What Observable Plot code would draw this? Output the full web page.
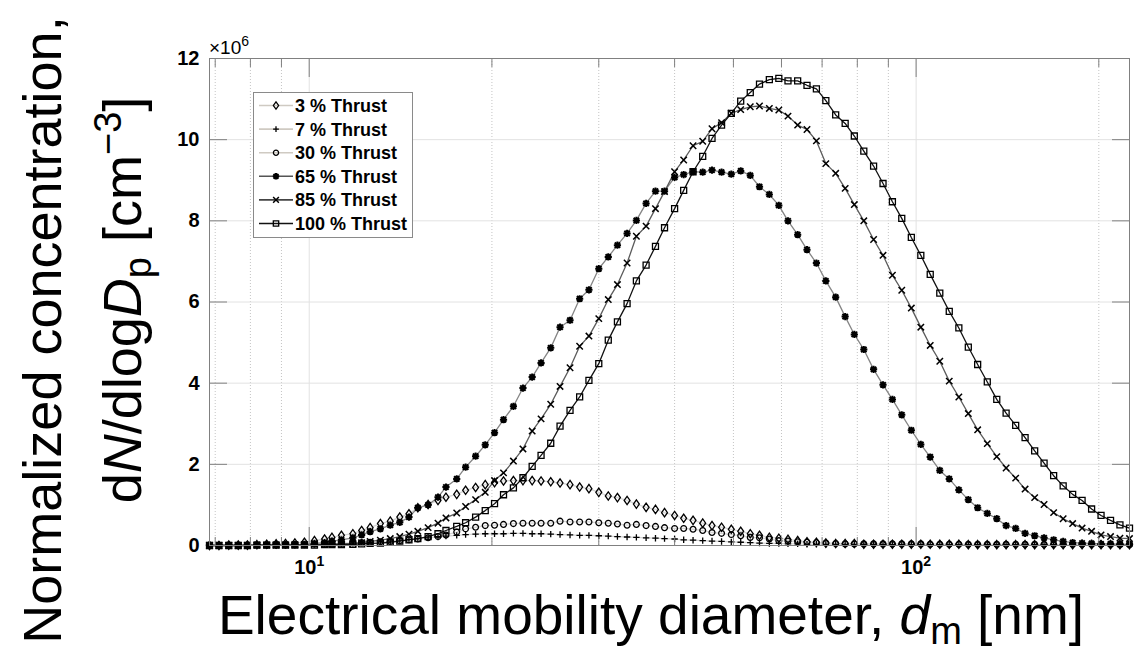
<!DOCTYPE html>
<html><head><meta charset="utf-8">
<script src="https://cdn.jsdelivr.net/npm/d3@7"></script>
<script src="https://cdn.jsdelivr.net/npm/@observablehq/plot@0.6"></script>
<style>
html,body{margin:0;padding:0;background:#fff;}
#chart{width:1136px;height:655px;overflow:hidden;}
svg{font-family:"Liberation Sans",Arial,Helvetica,sans-serif;}
</style></head>
<body><div id="chart"></div>
<script>
// SMPS channel midpoint diameters (nm)
const diameters = [6.85,7.10,7.37,7.64,7.91,8.20,8.51,8.82,9.14,9.47,9.82,
10.2,10.6,10.9,11.3,11.8,12.2,12.6,13.1,13.6,14.1,
14.6,15.1,15.7,16.3,16.8,17.5,18.1,18.8,19.5,20.2,
20.9,21.7,22.5,23.3,24.1,25.0,25.9,26.9,27.9,28.9,
30.0,31.1,32.2,33.4,34.6,35.9,37.2,38.5,40.0,41.4,
42.9,44.5,46.1,47.8,49.6,51.4,53.3,55.2,57.3,59.4,
61.5,63.8,66.1,68.5,71.0,73.7,76.4,79.1,82.0,85.1,
88.2,91.4,94.7,98.2,101.8,105.5,109.4,113.4,117.6,121.9,
126.3,131.0,135.8,140.7,145.9,151.2,156.8,162.5,168.5,174.7,
181.1,187.7,194.6,201.7,209.1,216.7,224.7];

// dN/dlogDp in units of 10^6 cm^-3
const thrust3 = [0.00,0.00,0.01,0.01,0.01,0.02,0.03,0.04,0.05,0.06,0.08,
0.12,0.16,0.20,0.25,0.29,0.37,0.44,0.54,0.60,0.70,
0.78,0.93,1.01,1.11,1.19,1.26,1.36,1.43,1.50,1.55,
1.59,1.60,1.60,1.60,1.59,1.57,1.54,1.50,1.44,1.40,
1.31,1.22,1.18,1.11,1.02,0.94,0.89,0.81,0.74,0.67,
0.62,0.55,0.49,0.45,0.40,0.35,0.29,0.25,0.20,0.18,
0.15,0.12,0.09,0.08,0.06,0.05,0.05,0.05,0.03,0.03,
0.03,0.03,0.03,0.03,0.03,0.03,0.03,0.03,0.03,0.02,
0.02,0.02,0.02,0.02,0.02,0.02,0.02,0.02,0.02,0.02,
0.02,0.02,0.02,0.02,0.02,0.02,0.02];

const thrust7 = [0.00,0.00,0.00,0.00,0.00,0.01,0.01,0.01,0.01,0.02,0.02,
0.03,0.03,0.04,0.05,0.06,0.07,0.08,0.09,0.11,0.13,
0.15,0.17,0.19,0.21,0.23,0.25,0.27,0.28,0.29,0.29,
0.29,0.30,0.30,0.29,0.29,0.28,0.27,0.26,0.25,0.25,
0.24,0.23,0.22,0.21,0.20,0.19,0.18,0.17,0.16,0.14,
0.13,0.12,0.11,0.10,0.09,0.08,0.07,0.06,0.05,0.05,
0.04,0.04,0.03,0.03,0.03,0.03,0.03,0.03,0.03,0.03,
0.02,0.02,0.02,0.02,0.02,0.02,0.02,0.02,0.02,0.02,
0.02,0.02,0.02,0.02,0.02,0.02,0.02,0.02,0.02,0.02,
0.02,0.02,0.02,0.02,0.02,0.02,0.02];

const thrust30 = [0.00,0.00,0.00,0.00,0.00,0.01,0.01,0.01,0.01,0.02,0.02,
0.03,0.03,0.04,0.05,0.06,0.07,0.08,0.09,0.10,0.12,
0.14,0.16,0.19,0.22,0.26,0.33,0.41,0.45,0.49,0.50,
0.52,0.54,0.55,0.55,0.55,0.55,0.60,0.58,0.58,0.58,
0.56,0.55,0.53,0.50,0.52,0.49,0.47,0.44,0.42,0.42,
0.40,0.37,0.32,0.30,0.27,0.24,0.20,0.19,0.16,0.12,
0.11,0.09,0.08,0.07,0.06,0.05,0.04,0.04,0.04,0.04,
0.04,0.04,0.04,0.04,0.04,0.03,0.03,0.03,0.03,0.03,
0.03,0.03,0.03,0.03,0.03,0.03,0.03,0.03,0.03,0.03,
0.03,0.03,0.03,0.03,0.03,0.03,0.03];

const thrust65 = [0.01,0.01,0.01,0.01,0.01,0.01,0.01,0.02,0.02,0.02,0.03,
0.05,0.07,0.11,0.14,0.19,0.26,0.34,0.41,0.50,0.57,
0.70,0.93,1.00,1.19,1.44,1.64,1.93,2.20,2.48,2.78,
3.10,3.43,3.88,4.15,4.50,4.87,5.38,5.55,6.08,6.30,
6.82,7.11,7.40,7.69,8.01,8.43,8.73,8.73,9.07,9.14,
9.21,9.20,9.25,9.20,9.15,9.23,9.12,8.84,8.65,8.38,
8.00,7.66,7.29,6.96,6.52,6.12,5.64,5.20,4.83,4.34,
3.96,3.60,3.22,2.84,2.49,2.18,1.85,1.64,1.37,1.13,
0.93,0.79,0.66,0.49,0.42,0.30,0.24,0.19,0.14,0.10,
0.07,0.06,0.05,0.04,0.04,0.03,0.03];

const thrust85 = [0.00,0.00,0.00,0.00,0.00,0.01,0.01,0.01,0.01,0.02,0.02,
0.03,0.03,0.04,0.04,0.05,0.07,0.10,0.13,0.17,0.22,
0.28,0.35,0.44,0.55,0.68,0.80,0.96,1.13,1.31,1.60,
1.79,2.08,2.38,2.82,3.12,3.48,3.92,4.38,4.91,5.16,
5.59,6.06,6.43,6.96,7.62,7.87,8.30,8.72,9.21,9.50,
9.85,9.96,10.27,10.42,10.65,10.74,10.81,10.83,10.77,10.73,
10.58,10.36,10.25,9.97,9.41,9.17,8.80,8.40,8.00,7.54,
7.15,6.66,6.29,5.85,5.38,4.93,4.54,4.05,3.66,3.25,
2.85,2.51,2.19,1.91,1.66,1.39,1.18,1.01,0.81,0.66,
0.54,0.43,0.35,0.26,0.22,0.18,0.17];

const thrust100 = [0.00,0.00,0.00,0.00,0.00,0.01,0.01,0.01,0.01,0.01,0.01,
0.01,0.02,0.02,0.02,0.03,0.04,0.05,0.06,0.08,0.11,
0.14,0.17,0.22,0.29,0.37,0.47,0.56,0.70,0.86,1.03,
1.25,1.42,1.67,1.95,2.22,2.52,2.94,3.33,3.66,4.07,
4.48,5.06,5.51,5.96,6.52,6.91,7.37,7.83,8.30,8.75,
9.21,9.59,10.03,10.36,10.65,10.95,11.16,11.37,11.48,11.51,
11.45,11.45,11.34,11.25,10.96,10.61,10.40,10.09,9.72,9.35,
8.92,8.47,8.06,7.59,7.15,6.68,6.22,5.77,5.36,4.89,
4.46,4.03,3.60,3.26,2.96,2.66,2.33,2.03,1.72,1.47,
1.26,1.11,0.90,0.74,0.62,0.51,0.43];

const seriesNames = ["3 % Thrust","7 % Thrust","30 % Thrust","65 % Thrust","85 % Thrust","100 % Thrust"];
const seriesValues = [thrust3, thrust7, thrust30, thrust65, thrust85, thrust100];
const yTicks = [0,2,4,6,8,10,12];
const xMajorTicks = [10,100];
const xMinorTicks = [7,8,9,20,30,40,50,60,70,80,90,200];
const xTickBase = ["10","10"];
const xTickExp = ["1","2"];

// ---- styling (separate from data) ----
const sq = (size) => Math.sqrt(size / Math.PI);
const symDiamond = {draw(c, s){const r=sq(s); c.moveTo(0,-1.35*r); c.lineTo(0.95*r,0); c.lineTo(0,1.35*r); c.lineTo(-0.95*r,0); c.closePath();}};
const symPlus = {draw(c, s){const r=sq(s); c.moveTo(-r,0); c.lineTo(r,0); c.moveTo(0,-r); c.lineTo(0,r);}};
const symCircle = {draw(c, s){const r=sq(s); c.moveTo(r,0); c.arc(0,0,r,0,2*Math.PI);}};
const symAster = {draw(c, s){const r=sq(s), q=r*0.75; c.moveTo(-r,0); c.lineTo(r,0); c.moveTo(0,-r); c.lineTo(0,r); c.moveTo(-q,-q); c.lineTo(q,q); c.moveTo(-q,q); c.lineTo(q,-q);}};
const symTimes = {draw(c, s){const r=sq(s)*0.8; c.moveTo(-r,-r); c.lineTo(r,r); c.moveTo(-r,r); c.lineTo(r,-r);}};
const symSquare = {draw(c, s){const r=sq(s); c.rect(-r,-r,2*r,2*r);}};

const styles = [
  {sym: symDiamond, r: 3.1, line: "#d4d4d4", sw: 1.3},
  {sym: symPlus, r: 3.2, line: "#d4d4d4", sw: 1.3},
  {sym: symCircle, r: 2.9, line: "#d4d4d4", sw: 1.3},
  {sym: symAster, r: 3.6, line: "#858585", sw: 2.0},
  {sym: symTimes, r: 4.0, line: "#5c5c5c", sw: 1.5},
  {sym: symSquare, r: 3.0, line: "#111111", sw: 1.3}
];

const rows = [];
seriesNames.forEach((name, si) => {
  seriesValues[si].forEach((v, k) => rows.push({series: name, si, d: diameters[k], v}));
});

const axisGray = "#808080";
const marks = [
  Plot.gridX(xMinorTicks, {stroke: "#c4c4c4", strokeOpacity: 1, strokeDasharray: "1,2"}),
  Plot.gridX(xMajorTicks, {stroke: "#e2e2e2", strokeOpacity: 1}),
  Plot.gridY(yTicks, {stroke: "#e2e2e2", strokeOpacity: 1})
];
seriesNames.forEach((name, si) => {
  const st = styles[si];
  const data = rows.filter(r => r.si === si);
  marks.push(Plot.line(data, {x: "d", y: "v", stroke: st.line, strokeWidth: 1.3}));
});
seriesNames.forEach((name, si) => {
  const st = styles[si];
  const data = rows.filter(r => r.si === si);
  marks.push(Plot.dot(data, {x: "d", y: "v", symbol: st.sym, r: st.r, stroke: "black", fill: "none", strokeWidth: st.sw}));
});
marks.push(
  Plot.frame({stroke: axisGray}),
  Plot.axisX(xMajorTicks, {anchor: "bottom", tickSize: -18, tickFormat: () => "", label: null, stroke: axisGray}),
  Plot.axisX(xMajorTicks, {anchor: "top", tickSize: -18, tickFormat: () => "", label: null, stroke: axisGray}),
  Plot.axisX(xMinorTicks, {anchor: "bottom", tickSize: -8, tickFormat: () => "", label: null, stroke: axisGray}),
  Plot.axisX(xMinorTicks, {anchor: "top", tickSize: -8, tickFormat: () => "", label: null, stroke: axisGray}),
  Plot.axisY(yTicks, {anchor: "left", tickSize: -18, tickFormat: () => "", label: null, stroke: axisGray}),
  Plot.axisY(yTicks, {anchor: "right", tickSize: -18, tickFormat: () => "", label: null, stroke: axisGray}),
  Plot.axisX(xMajorTicks, {anchor: "bottom", tickSize: 0, tickPadding: 14, label: null,
    tickFormat: d => "XT" + xMajorTicks.indexOf(d), fontSize: 20, fontWeight: "bold", fill: "black"}),
  Plot.axisY(yTicks, {anchor: "left", tickSize: 0, tickPadding: 10, label: null,
    tickFormat: d => String(d), fontSize: 20, fontWeight: "bold", fill: "black"})
);

const chart = Plot.plot({
  width: 1136, height: 655,
  marginLeft: 209, marginRight: 7, marginTop: 58, marginBottom: 110,
  style: {background: "white", fontFamily: '"Liberation Sans", Arial, sans-serif', overflow: "visible"},
  x: {type: "log", domain: [6.85, 224.7]},
  y: {domain: [0, 12]},
  marks
});
document.getElementById("chart").appendChild(chart);

const svg = d3.select(chart);
// rebuild x tick labels as base + superscript exponent
svg.selectAll("text").each(function() {
  const t = d3.select(this);
  const s = t.text();
  const m = /^XT(\d)$/.exec(s);
  if (m) {
    const i = +m[1];
    t.text(null);
    t.append("tspan").text(xTickBase[i]);
    t.append("tspan").attr("font-size", 14).attr("dy", -8).text(xTickExp[i]);
  }
});

// exponent label
const ex = svg.append("text").attr("x", 209).attr("y", 54).attr("text-anchor", "start").attr("font-size", 19).attr("fill", "black");
ex.append("tspan").text("\u00D710");
ex.append("tspan").attr("font-size", 14).attr("dy", -8).text("6");

// x axis title
const xt = svg.append("text").attr("x", 651).attr("y", 634).attr("text-anchor", "middle").attr("font-size", 55).attr("fill", "black");
xt.append("tspan").text("Electrical mobility diameter, ");
xt.append("tspan").attr("font-style", "italic").text("d");
xt.append("tspan").attr("font-size", 38).attr("dy", 10).text("m");
xt.append("tspan").attr("dy", -10).text(" [nm]");

// y axis title (two lines)
svg.append("text").attr("transform", "translate(61,330) rotate(-90)").attr("text-anchor", "middle")
  .attr("font-size", 54).attr("fill", "black").text("Normalized concentration,");
const yt = svg.append("text").attr("transform", "translate(141,300) rotate(-90)").attr("text-anchor", "middle")
  .attr("font-size", 54).attr("fill", "black");
yt.append("tspan").text("d");
yt.append("tspan").attr("font-style", "italic").text("N");
yt.append("tspan").text("/dlog");
yt.append("tspan").attr("font-style", "italic").text("D");
yt.append("tspan").attr("font-size", 38).attr("dy", 10).text("p");
yt.append("tspan").attr("dy", -10).text(" [cm");
yt.append("tspan").attr("font-size", 38).attr("dy", -20).text("\u22123");
yt.append("tspan").attr("dy", 20).text("]");

// legend
const lg = svg.append("g").attr("text-anchor", "start");
lg.append("rect").attr("x", 253.5).attr("y", 92.5).attr("width", 159).attr("height", 145)
  .attr("fill", "white").attr("stroke", "#8a8a8a").attr("stroke-width", 1);
seriesNames.forEach((name, si) => {
  const st = styles[si];
  const y = 105.5 + si * 23.6;
  lg.append("line").attr("x1", 259).attr("x2", 293).attr("y1", y).attr("y2", y)
    .attr("stroke", si < 3 ? "#cfcac2" : (si === 3 ? "#555" : si === 4 ? "#444" : "#111")).attr("stroke-width", 1.6);
  const p = d3.path(); st.sym.draw(p, st.r * st.r * Math.PI * 0.8);
  lg.append("path").attr("transform", `translate(276,${y})`).attr("d", p.toString())
    .attr("fill", "none").attr("stroke", "black").attr("stroke-width", st.sw);
  lg.append("text").attr("x", 295).attr("y", y).attr("dy", "0.36em").attr("text-anchor", "start").attr("font-size", 18)
    .attr("font-weight", "bold").attr("fill", "black").text(name);
});
</script>
</body></html>
